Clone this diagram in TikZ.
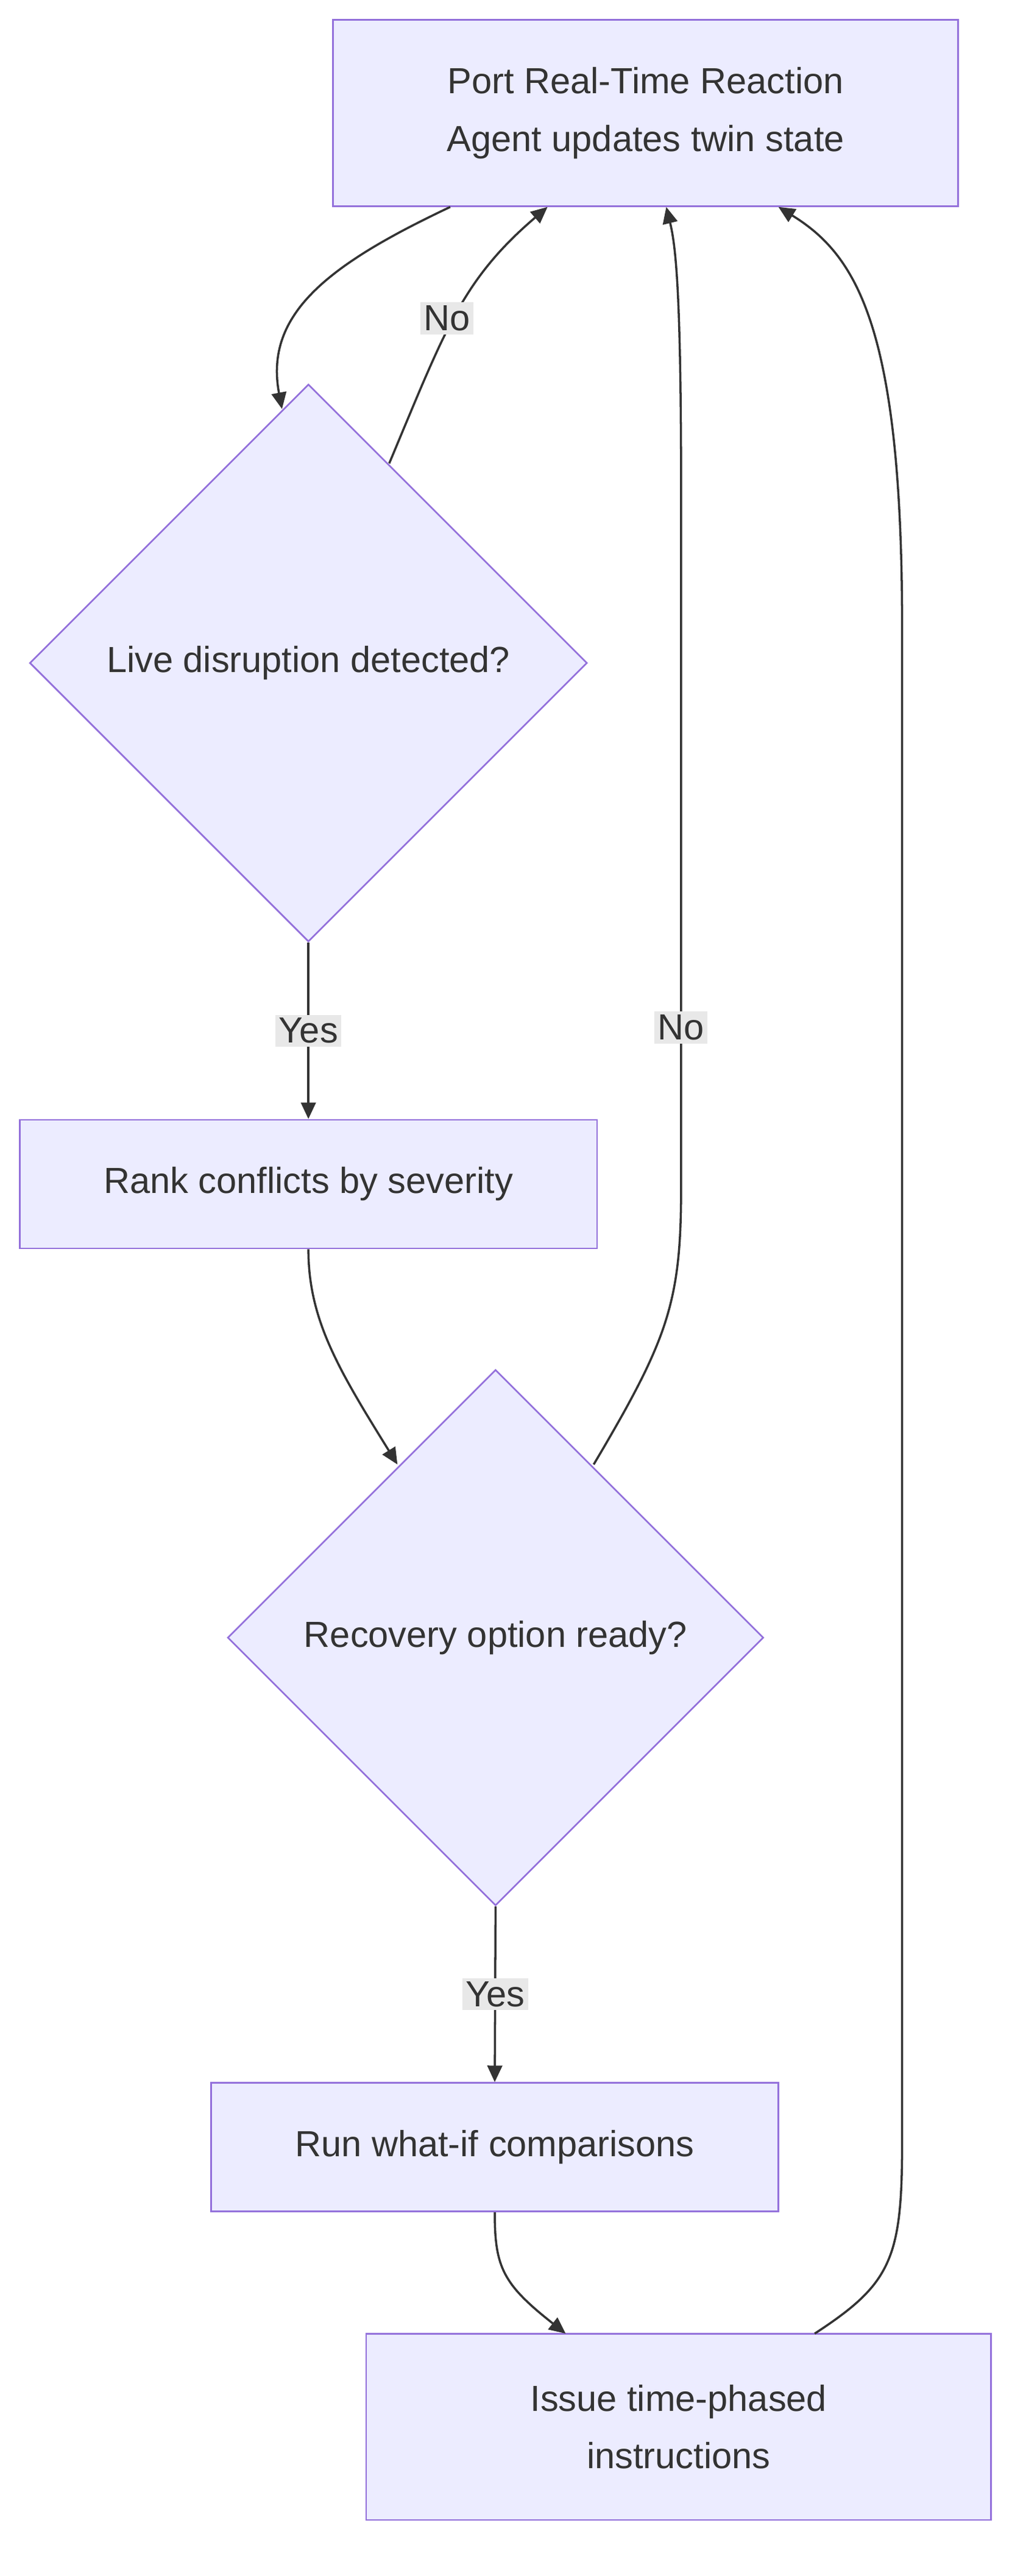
\documentclass[tikz,border=0pt]{standalone}
\usepackage{fontspec}
\setmainfont{Liberation Sans}
\usetikzlibrary{arrows.meta,shapes.geometric}
\definecolor{nfill}{HTML}{ECECFF}
\definecolor{nline}{HTML}{9370DB}
\definecolor{txt}{HTML}{333333}
\definecolor{lbl}{HTML}{E8E8E8}
\begin{document}
\begin{tikzpicture}[x=1pt,y=-1pt,
  box/.style={draw=nline,fill=nfill,line width=1pt,text=txt,font=\fontsize{22}{35}\selectfont,align=center,inner sep=0pt},
  edge/.style={draw=txt,line width=1.3pt,-{Triangle[length=10pt,width=9pt]}},
  lab/.style={fill=lbl,text=txt,font=\fontsize{22}{26}\selectfont,inner sep=2pt}]
\useasboundingbox (0,0) rectangle (622,1562);
\node[box,minimum width=379pt,minimum height=113pt] (top) at (391.5,68.5) {Port Real-Time Reaction\\Agent updates twin state};
\node[box,diamond,minimum width=338pt,minimum height=338pt,aspect=1] (d1) at (187,402) {Live disruption detected?};
\node[box,minimum width=350pt,minimum height=78pt] (rank) at (187,718) {Rank conflicts by severity};
\node[box,diamond,minimum width=325pt,minimum height=325pt,aspect=1] (d2) at (300.5,993) {Recovery option ready?};
\node[box,minimum width=344pt,minimum height=78pt] (run) at (300,1302) {Run what-if comparisons};
\node[box,minimum width=379pt,minimum height=113pt] (iss) at (411.5,1471.5) {Issue time-phased\\instructions};
\coordinate (t1) at (273,125.5);
\coordinate (t2) at (332,125.5);
\coordinate (t3) at (404,125.5);
\coordinate (t4) at (472,125.5);
\draw[edge] (t1) .. controls (200,160) and (160,190) .. (171,248);
\draw[edge] (236,281) .. controls (270,200) and (280,170) .. (t2);
\draw[edge] (d1.south) -- (rank.north) node[lab,pos=0.5] {Yes};
\draw[edge] (rank.south) .. controls (187,800) and (205,830) .. (241,888);
\draw[edge] (360,888) .. controls (405,812) and (413,790) .. (413,720) -- (413,300) .. controls (413,180) and (410,150) .. (t3);
\node[lab] (no2) at (413,623) {No};
\node[lab] (no1) at (271,193) {No};
\draw[edge] (d2.south) -- (run.north) node[lab,pos=0.5] {Yes};
\draw[edge] (run.south) .. controls (300,1375) and (305,1385) .. (343,1415);
\draw[edge] (494,1415) .. controls (540,1385) and (547,1370) .. (547,1300) -- (547,380) .. controls (547,200) and (520,155) .. (t4);
\end{tikzpicture}
\end{document}
